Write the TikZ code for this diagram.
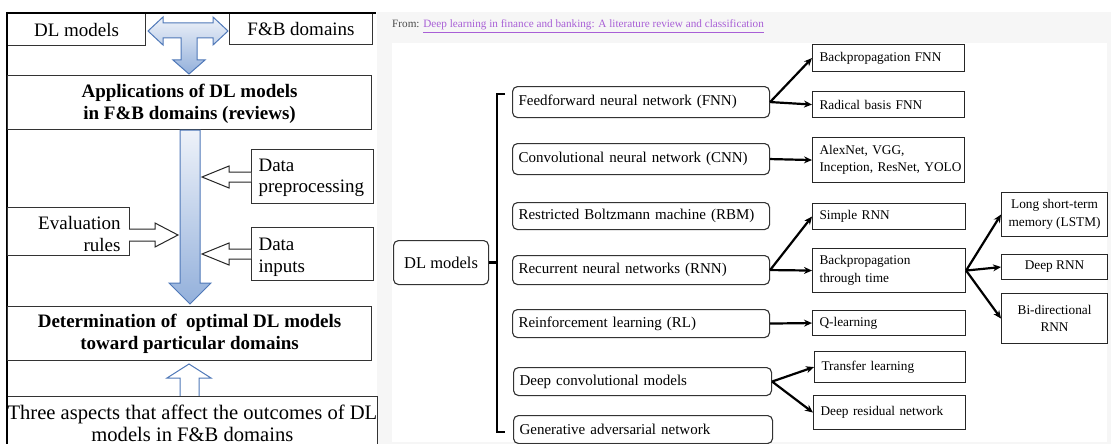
\documentclass[tikz,border=0pt]{standalone}
\usepackage{fontspec}
\setmainfont{Liberation Serif}
\usetikzlibrary{arrows.meta,calc}
\definecolor{bluefillA}{HTML}{EEF2F9}
\definecolor{bluefillB}{HTML}{93B0DB}
\definecolor{blueline}{HTML}{4F78B8}
\definecolor{linkpurple}{HTML}{A85FD6}
\definecolor{panelgray}{HTML}{F6F6F6}
\newcommand\LFont{\fontsize{19}{22}\selectfont}
\newcommand\CFont{\fontsize{15}{18}\selectfont}
\newcommand\SFont{\fontsize{13.3}{17.5}\selectfont}
\begin{document}
\begin{tikzpicture}[x=1pt,y=-1pt,
  lbox/.style={draw=black!80, line width=1.1pt, inner sep=0pt, anchor=north west, font=\LFont},
  cbox/.style={draw=black!80, line width=1.1pt, inner sep=0pt, anchor=north west, rounded corners=5pt, font=\CFont, align=left},
  leaf/.style={draw=black!85, line width=1.1pt, inner sep=0pt, anchor=north west, font=\SFont},
  bluearrow/.style={draw=blueline, line width=1pt, top color=bluefillA, bottom color=bluefillB},
  hollow/.style={draw=black!85, fill=white, line width=1pt},
  arr/.style={line width=2.2pt, -{Stealth[length=8pt,width=7pt]}},
]
\useasboundingbox (0,0) rectangle (1111,444);
% right panel background
\fill[panelgray] (377,12) rectangle (1111,444);
\fill[white] (392,43) rectangle (1107,442);

% ================= LEFT PANEL =================
\node[lbox, minimum width=138, minimum height=32] (ldl) at (7,13) {DL models};
\node[lbox, minimum width=143, minimum height=31] (lfb) at (229,13) {F\&B domains};
\draw[line width=2.6pt] (6,13) -- (376,13);
\draw[line width=2.6pt] (7,12) -- (7,446);

\shadedraw[bluearrow] (148,31) -- (163,17) -- (163,23) -- (213,23) -- (213,17) -- (228,31)
  -- (213,45) -- (213,38) -- (197,38) -- (197,60) -- (205,60) -- (189,74) -- (173,60)
  -- (181,60) -- (181,38) -- (163,38) -- (163,45) -- cycle;

\node[lbox, minimum width=364, minimum height=54, align=center, font=\LFont\bfseries] (app) at (7,75)
  {\rule{0pt}{16pt}Applications of DL models\\in F\&B domains (reviews)};

\shadedraw[bluearrow] (180,130) -- (200,130) -- (200,283) -- (211,283) -- (190,304)
  -- (169,283) -- (180,283) -- cycle;

\node[lbox, minimum width=122, minimum height=54, text width=108, align=left] (dp) at (251,149)
  {\rule{0pt}{15pt}Data\\[-1pt]preprocessing};
\node[lbox, minimum width=122, minimum height=48, text width=104, align=right] (ev) at (7,207)
  {\rule{0pt}{18pt}Evaluation\\rules};
\node[lbox, minimum width=122, minimum height=53, text width=108, align=left] (di) at (251,227)
  {\rule{0pt}{19.6pt}Data\\inputs};

\draw[hollow] (251,172) -- (229,172) -- (229,166) -- (202,177) -- (229,188) -- (229,182) -- (251,182);
\draw[hollow] (129,229) -- (155,229) -- (155,223) -- (178,235) -- (155,247) -- (155,241) -- (129,241);
\draw[hollow] (251,249) -- (229,249) -- (229,243) -- (202,254) -- (229,265) -- (229,259) -- (251,259);

\node[lbox, minimum width=364, minimum height=54, align=center, font=\LFont\bfseries] (det) at (7,306)
  {Determination of\ \ optimal DL models\\toward particular domains};

\draw[draw=blueline, fill=white, line width=1pt] (180,396) -- (180,378) -- (167,378) -- (189,364)
  -- (211,378) -- (199,378) -- (199,396);

\node[lbox, minimum width=365, minimum height=54, align=center, font=\fontsize{20.6}{22}\selectfont] (three) at (7,396)
  {Three aspects that affect the outcomes of DL\\models in F\&B domains};
\draw[line width=2.6pt] (7,390) -- (7,446);

% ================= RIGHT PANEL =================
\node[anchor=base west, inner sep=0pt, font=\fontsize{11.2}{13}\selectfont, text=black!70] (from) at (392,28)
  {From: \textcolor{linkpurple}{\underline{Deep learning in finance and banking: A literature review and classification}}};

\node[cbox, minimum width=95, minimum height=44, align=center, font=\fontsize{16.5}{19}\selectfont] (dlm) at (393,240) {DL models};

\node[cbox, minimum width=257, minimum height=31, text width=245] (fnn) at (512,86) {Feedforward neural network (FNN)};
\node[cbox, minimum width=257, minimum height=31, text width=245] (cnn) at (512,143) {Convolutional neural network (CNN)};
\node[cbox, minimum width=257, minimum height=27, text width=245] (rbm) at (512,202) {Restricted Boltzmann machine (RBM)};
\node[cbox, minimum width=257, minimum height=29, text width=245] (rnn) at (512,255) {Recurrent neural networks (RNN)};
\node[cbox, minimum width=257, minimum height=28, text width=245] (rl) at (512,309) {Reinforcement learning (RL)};
\node[cbox, minimum width=258, minimum height=28, text width=246] (dcm) at (513,367) {Deep convolutional models};
\node[cbox, minimum width=259, minimum height=28, text width=247] (gan) at (513,415) {Generative adversarial network};

\coordinate (brk) at (497,262);
\draw[line width=2.5pt] (505,94) -- (497,94) -- (497,432) -- (505,432);
\draw[line width=2.5pt] (dlm.east) -- (dlm.east -| brk);

\node[leaf, minimum width=152, minimum height=27, text width=138, align=left] (bpf) at (812,44) {Backpropagation FNN};
\node[leaf, minimum width=152, minimum height=26, text width=138, align=left] (rbf) at (812,91) {Radical basis FNN};
\node[leaf, minimum width=152, minimum height=45, text width=138, align=left] (alex) at (812,137) {AlexNet, VGG,\\\mbox{Inception, ResNet, YOLO}};
\node[leaf, minimum width=153, minimum height=26, text width=139, align=left] (srnn) at (812,203) {Simple RNN};
\node[leaf, minimum width=153, minimum height=44, text width=139, align=left] (bptt) at (812,248) {Backpropagation\\through time};
\node[leaf, minimum width=153, minimum height=25, text width=139, align=left] (ql) at (812,310) {Q-learning};
\node[leaf, minimum width=151, minimum height=31, text width=137, align=left] (tl) at (814,351) {Transfer learning};
\node[leaf, minimum width=152, minimum height=34, text width=138, align=left] (drn) at (813,395) {Deep residual network};
\node[leaf, minimum width=106, minimum height=44, align=center] (lstm) at (1001,192) {Long short-term\\memory (LSTM)};
\node[leaf, minimum width=106, minimum height=25, align=center] (drnn) at (1001,254) {Deep RNN};
\node[leaf, minimum width=106, minimum height=50, align=center] (bidir) at (1001,293) {Bi-directional\\RNN};

\draw[arr] (fnn.east) -- (bpf.west);
\draw[arr] (fnn.east) -- (rbf.west);
\draw[arr] (cnn.east) -- (alex.west);
\draw[arr] (rnn.east) -- (srnn.west);
\draw[arr] (rnn.east) -- (bptt.west);
\draw[arr] (rl.east) -- (ql.west);
\draw[arr] (dcm.east) -- (tl.west);
\draw[arr] (dcm.east) -- (drn.west);
\draw[arr] (bptt.east) -- (lstm.west);
\draw[arr] (bptt.east) -- (drnn.west);
\draw[arr] (bptt.east) -- (bidir.west);
\end{tikzpicture}
\end{document}
